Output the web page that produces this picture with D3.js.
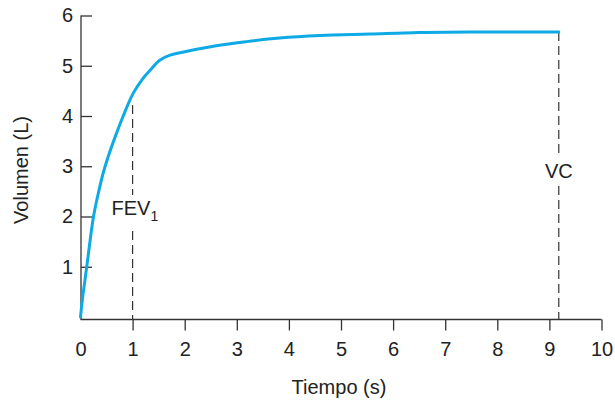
<!DOCTYPE html>
<html lang="es">
<head>
    <meta charset="UTF-8">
    <title>Espirometría</title>
    <script src="https://d3js.org/d3.v7.min.js"></script>
    <style>
        body { margin: 0; background: #fff; }
        text { font-family: "Liberation Sans", Arial, sans-serif; fill: #222; }
    </style>
</head>
<body>
    <div id="chart-container"></div>

    <script>
        // volume-time curve (time s, volume L)
        const tiempo  = [0, 0.04, 0.12, 0.25, 0.35, 0.45, 0.55, 0.66, 0.82, 1.01, 1.2, 1.37, 1.52, 1.72, 1.91, 2.55, 3.19, 3.82, 4.6, 5.55, 6.5, 7.5, 9.18];
        const volumen = [0, 0.38, 1.0, 2.0, 2.5, 2.92, 3.25, 3.57, 4.0, 4.45, 4.75, 4.95, 5.11, 5.21, 5.26, 5.39, 5.48, 5.55, 5.6, 5.63, 5.66, 5.67, 5.67];

        const xTicks = [0, 1, 2, 3, 4, 5, 6, 7, 8, 9, 10];
        const yTicks = [1, 2, 3, 4, 5, 6];

        // markers
        const fevTime = 1, fevTop = 4.22;
        const vcTime = 9.18, vcTop = 5.67;

        const width = 615, height = 402;

        const svg = d3.select("#chart-container")
            .append("svg")
            .attr("width", width)
            .attr("height", height);

        const x = d3.scaleLinear().domain([0, 10]).range([80.5, 601.5]);
        const y = d3.scaleLinear().domain([0, 6]).range([317, 15.5]);
        const axisY = y(0) + 2.5;   // x axis sits a bit under zero

        const lineColor = "#333";

        // x axis
        const gx = svg.append("g")
            .attr("transform", `translate(0,${axisY})`)
            .call(d3.axisBottom(x).tickValues(xTicks).tickFormat(d3.format("d"))
                .tickSize(11).tickPadding(11).tickSizeOuter(0));
        gx.select(".domain").remove();
        gx.selectAll(".tick line").attr("stroke", lineColor).attr("stroke-width", 1.3)
            .filter(d => d === 0).remove();
        gx.selectAll(".tick text").style("font-size", "20px").attr("fill", "#222");

        // y axis
        const gy = svg.append("g")
            .attr("transform", `translate(${x(0) + 0.5},0)`)
            .call(d3.axisLeft(y).tickValues(yTicks).tickFormat(d3.format("d"))
                .tickSize(-11).tickPadding(8).tickSizeOuter(0));
        gy.select(".domain").remove();
        gy.selectAll(".tick line").attr("stroke", lineColor).attr("stroke-width", 1.3);
        gy.selectAll(".tick text").style("font-size", "20px").attr("fill", "#222");

        // axis lines
        svg.append("line")
            .attr("x1", x(0) + 0.5).attr("x2", x(0) + 0.5)
            .attr("y1", y(6)).attr("y2", axisY)
            .attr("stroke", lineColor).attr("stroke-width", 1.3);
        svg.append("line")
            .attr("x1", x(0)).attr("x2", x(10))
            .attr("y1", axisY).attr("y2", axisY)
            .attr("stroke", lineColor).attr("stroke-width", 1.3);

        // axis titles
        svg.append("text")
            .attr("x", 339)
            .attr("y", 394)
            .attr("text-anchor", "middle")
            .style("font-size", "20px")
            .text("Tiempo (s)");

        svg.append("text")
            .attr("transform", "translate(27.5,170) rotate(-90)")
            .attr("text-anchor", "middle")
            .style("font-size", "20px")
            .text("Volumen (L)");

        // dashed marker lines
        svg.append("line")
            .attr("x1", x(fevTime)).attr("x2", x(fevTime))
            .attr("y1", y(fevTop)).attr("y2", axisY)
            .attr("stroke", lineColor).attr("stroke-width", 1.2)
            .attr("stroke-dasharray", "9,5");

        svg.append("line")
            .attr("x1", x(vcTime)).attr("x2", x(vcTime))
            .attr("y1", y(vcTop)).attr("y2", axisY)
            .attr("stroke", lineColor).attr("stroke-width", 1.2)
            .attr("stroke-dasharray", "9,5");

        // labels with white boxes so the dashes break around them
        function boxedLabel(g, pad) {
            const b = g.node().getBBox();
            g.insert("rect", ":first-child")
                .attr("x", b.x - pad).attr("y", b.y - pad)
                .attr("width", b.width + 2 * pad).attr("height", b.height + 2 * pad)
                .attr("fill", "#fff");
        }

        const fevG = svg.append("g");
        const fevText = fevG.append("text")
            .attr("x", 111.5)
            .attr("y", 215)
            .style("font-size", "20px");
        fevText.append("tspan").text("FEV");
        fevText.append("tspan").attr("dy", 6).style("font-size", "14px").text("1");
        boxedLabel(fevG, 2);

        const vcG = svg.append("g");
        vcG.append("text")
            .attr("x", x(vcTime))
            .attr("y", 178)
            .attr("text-anchor", "middle")
            .style("font-size", "20px")
            .text("VC");
        boxedLabel(vcG, 4);

        // curve
        const pts = tiempo.map((t, i) => [t, volumen[i]]);
        svg.append("path")
            .datum(pts)
            .attr("fill", "none")
            .attr("stroke", "#0eaae6")
            .attr("stroke-width", 3)
            .attr("stroke-linecap", "round")
            .attr("d", d3.line()
                .x(d => x(d[0]))
                .y(d => y(d[1]))
                .curve(d3.curveCatmullRom.alpha(0.5)));
    </script>
</body>
</html>
